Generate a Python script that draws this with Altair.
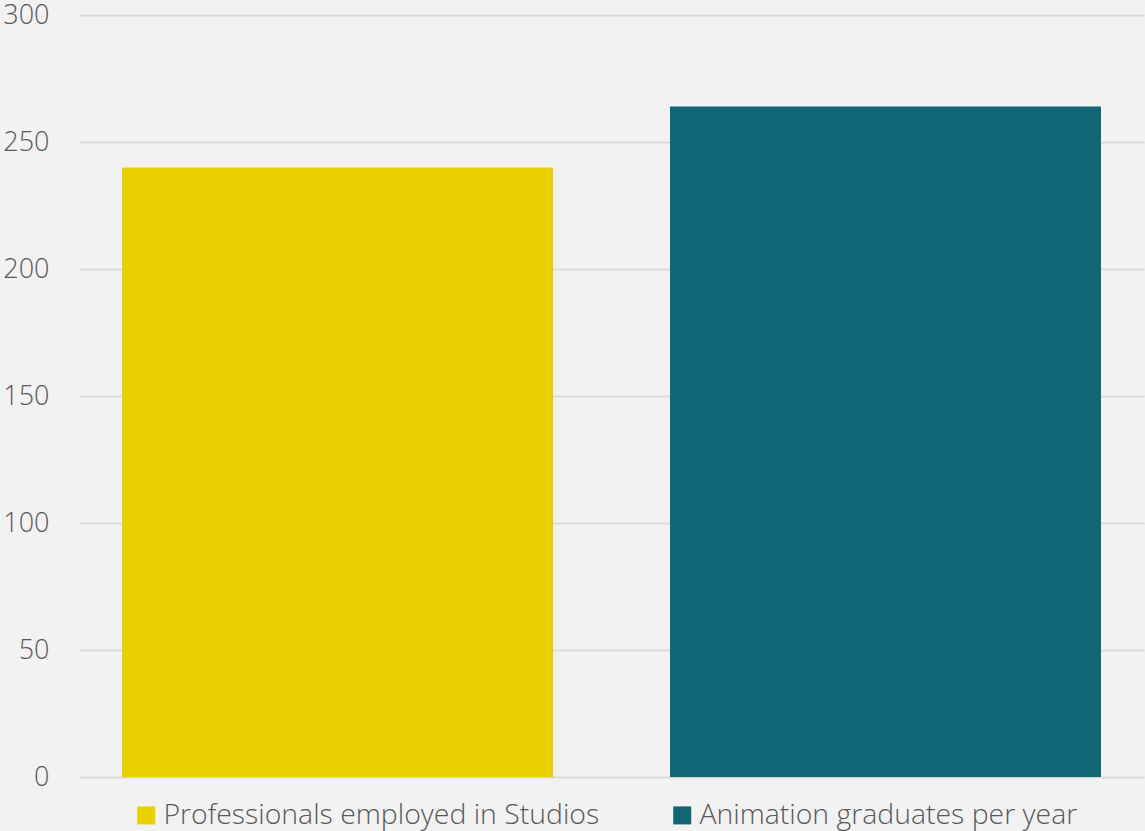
import altair as alt
import pandas as pd

categories = ["Professionals employed in Studios", "Animation graduates per year"]
values = [240, 264]
colors = ["#e9d100", "#106675"]

df = pd.DataFrame({"category": categories, "value": values})

FONT = "Open Sans"

chart = alt.Chart(df).mark_bar().encode(
    x=alt.X("category:N", sort=categories, axis=None,
            scale=alt.Scale(paddingInner=0.2135, paddingOuter=0.0785)),
    y=alt.Y("value:Q", scale=alt.Scale(domain=[0, 300]),
            axis=alt.Axis(values=[0, 50, 100, 150, 200, 250, 300], title=None,
                          domain=False, ticks=False, labelPadding=30,
                          labelFont=FONT, labelFontSize=27, labelFontWeight=300,
                          labelColor="#595959",
                          gridColor="#d9d9d9", gridWidth=2)),
    color=alt.Color("category:N", sort=categories,
                    scale=alt.Scale(domain=categories, range=colors),
                    legend=alt.Legend(title=None, orient="none", direction="horizontal",
                                      legendX=53, legendY=786, symbolType="square",
                                      symbolSize=324, symbolStrokeWidth=0,
                                      labelFont=FONT, labelFontSize=28.4, labelFontWeight=300,
                                      labelColor="#595959",
                                      labelOffset=3, columnPadding=68, labelLimit=700)),
).properties(
    width=1065, height=762,
    background="#f2f2f2",
    autosize=alt.AutoSizeParams(type="none"),
    padding={"left": 79, "top": 15, "right": 1, "bottom": 54},
).configure_view(stroke=None)

chart.save("out.html", embed_options={"renderer": "svg", "actions": False})
